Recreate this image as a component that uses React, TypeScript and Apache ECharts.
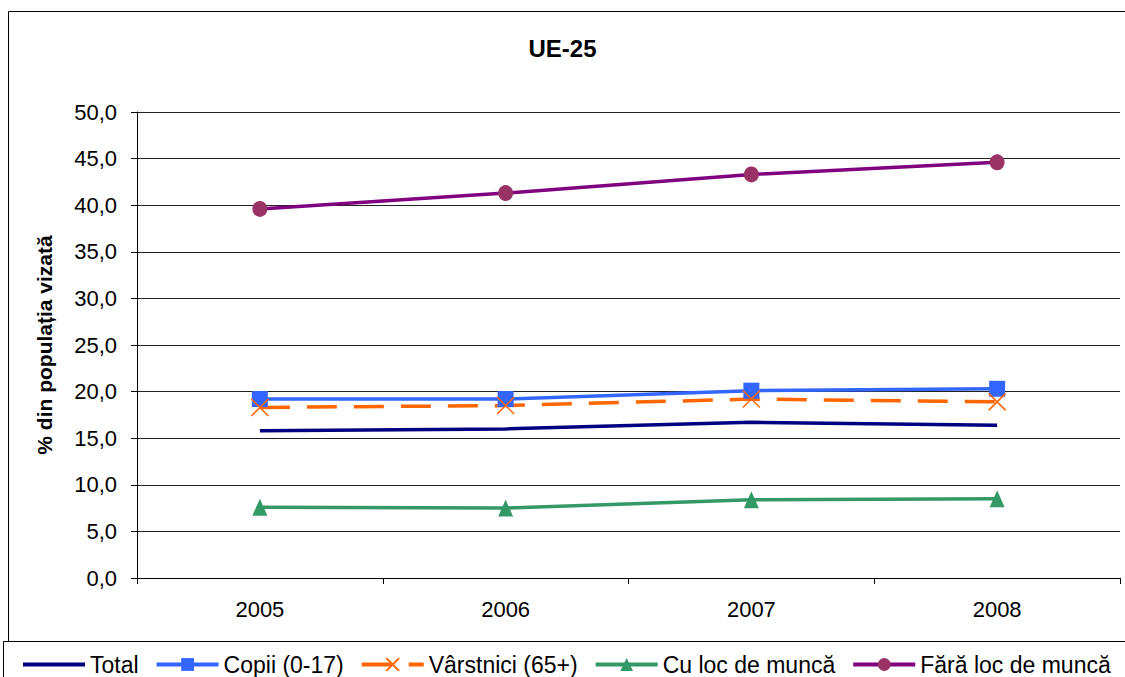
import React, { useEffect, useRef } from "react";
import * as echarts from "echarts";

const years = ["2005", "2006", "2007", "2008"];
const total = [15.8, 16.0, 16.7, 16.4];
const copii = [19.2, 19.2, 20.1, 20.3];
const varstnici = [18.3, 18.5, 19.2, 18.9];
const cuLoc = [7.6, 7.5, 8.4, 8.5];
const faraLoc = [39.6, 41.3, 43.3, 44.6];
const seriesNames = ["Total", "Copii (0-17)", "Vârstnici (65+)", "Cu loc de muncă", "Fără loc de muncă"];

const FONT = "'Liberation Sans', Arial, sans-serif";

export default function App() {
  const ref = useRef<HTMLDivElement>(null);
  useEffect(() => {
    if (!ref.current) return;
    const chart = echarts.init(ref.current, null, { renderer: "svg" });
    chart.setOption({
      animation: false,
      backgroundColor: "#ffffff",
      textStyle: { fontFamily: FONT },
      title: {
        text: "UE-25",
        left: "center",
        top: 31,
        textStyle: { fontFamily: FONT, fontSize: 24, fontWeight: "bold", color: "#000" },
      },
      graphic: [
        {
          type: "rect",
          shape: { x: 8.5, y: 11.5, width: 1130, height: 630 },
          style: { fill: "none", stroke: "#000", lineWidth: 1 },
          silent: true,
          z: -1,
        },
        {
          type: "rect",
          shape: { x: 3.5, y: 641.5, width: 1135, height: 50 },
          style: { fill: "#fff", stroke: "#000", lineWidth: 1 },
          silent: true,
          z: -1,
        },
      ],
      legend: {
        data: seriesNames.map((n, i) =>
          i === 0 ? { name: n, itemStyle: { opacity: 0 } } : { name: n }
        ),
        left: 16,
        top: 648,
        width: 1300,
        itemWidth: 62,
        itemHeight: 16,
        itemGap: 16,
        lineStyle: { width: 4 },
        textStyle: { fontFamily: FONT, fontSize: 23, color: "#000" },
      },
      grid: { left: 137, right: 5, top: 112, bottom: 99 },
      xAxis: {
        type: "category",
        data: years,
        boundaryGap: true,
        axisLine: { lineStyle: { color: "#000", width: 1 } },
        axisTick: { show: true, length: 6, alignWithLabel: false, lineStyle: { color: "#000" } },
        axisLabel: { fontFamily: FONT, fontSize: 22, color: "#000", margin: 20 },
        splitLine: { show: false },
      },
      yAxis: {
        type: "value",
        min: 0,
        max: 50,
        interval: 5,
        name: "% din populația vizată",
        nameLocation: "middle",
        nameGap: 82,
        nameTextStyle: { fontFamily: FONT, fontSize: 21, fontWeight: "bold", color: "#000" },
        axisLine: { show: true, lineStyle: { color: "#000", width: 1 } },
        axisTick: { show: true, length: 6, lineStyle: { color: "#000" } },
        axisLabel: {
          fontFamily: FONT,
          fontSize: 22,
          color: "#000",
          margin: 20,
          formatter: (v: number) => v.toFixed(1).replace(".", ","),
        },
        splitLine: { show: true, lineStyle: { color: "#222", width: 1 } },
      },
      series: [
        {
          name: seriesNames[0],
          type: "line",
          data: total,
          symbol: "none",
          lineStyle: { color: "#000080", width: 3.5 },
          itemStyle: { color: "#000080" },
        },
        {
          name: seriesNames[1],
          type: "line",
          data: copii,
          symbol: "rect",
          symbolSize: 16,
          lineStyle: { color: "#3366FF", width: 3.5 },
          itemStyle: { color: "#3366FF" },
        },
        {
          name: seriesNames[2],
          type: "line",
          data: varstnici,
          symbol: "path://M0,0L10,10M10,0L0,10",
          symbolSize: 17,
          lineStyle: { color: "#FF6600", width: 3.5, type: [30, 17] },
          itemStyle: { color: "#FF6600", borderColor: "#FF6600", borderWidth: 1.5 },
        },
        {
          name: seriesNames[3],
          type: "line",
          data: cuLoc,
          symbol: "triangle",
          symbolSize: [15, 17],
          lineStyle: { color: "#339966", width: 3.5 },
          itemStyle: { color: "#339966" },
        },
        {
          name: seriesNames[4],
          type: "line",
          data: faraLoc,
          symbol: "circle",
          symbolSize: [15, 16],
          lineStyle: { color: "#800080", width: 3.5 },
          itemStyle: { color: "#993366" },
        },
      ],
    });
    return () => chart.dispose();
  }, []);
  return (
    <div
      ref={ref}
      style={{ position: "absolute", left: 0, top: 0, width: 1125, height: 677, background: "#fff" }}
    />
  );
}
